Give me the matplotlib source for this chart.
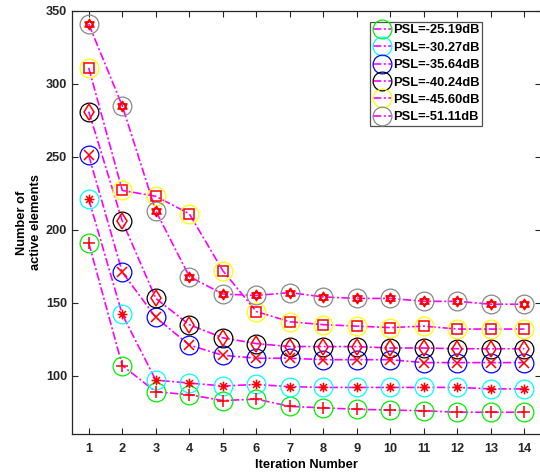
import numpy as np
import matplotlib
matplotlib.use("Agg")
from matplotlib import pyplot as plt
from matplotlib.path import Path

plt.rcParams['font.family'] = ['Liberation Sans', 'DejaVu Sans']
plt.rcParams['font.weight'] = 'bold'

# data
iterations = list(range(1, 15))
psl25 = [191, 107, 89, 87, 83, 84, 79, 78, 77, 76.5, 76, 75, 75, 75]
psl30 = [221, 142, 97, 95, 93, 94, 92.5, 92, 92, 92, 92, 92, 91, 91]
psl35 = [251, 171, 140, 121, 114, 112, 112, 111, 111, 111, 109, 109, 109, 109]
psl40 = [281, 206, 153, 135, 126, 122, 120, 120, 120, 119, 119, 118.5, 118.5, 118.5]
psl45 = [311, 227, 223, 211, 172, 144, 137, 135, 134, 133, 134, 132, 132, 132]
psl51 = [341, 285, 213, 168, 156, 155, 157, 154, 153, 153, 151, 151, 149, 149]
labels = ['PSL=-25.19dB', 'PSL=-30.27dB', 'PSL=-35.64dB',
          'PSL=-40.24dB', 'PSL=-45.60dB', 'PSL=-51.11dB']

# hexagram (star of david) marker
s = np.sqrt(3) / 2
tri1 = [(0, 1), (-s, -0.5), (s, -0.5), (0, 1)]
tri2 = [(0, -1), (-s, 0.5), (s, 0.5), (0, -1)]
codes = [Path.MOVETO, Path.LINETO, Path.LINETO, Path.CLOSEPOLY]
hexagram = Path(tri1 + tri2, codes + codes)

# matlab-like asterisk: plus and cross drawn as strokes
d = 0.707
astVerts = [(0, -1), (0, 1), (-1, 0), (1, 0), (-d, -d), (d, d), (-d, d), (d, -d)]
astCodes = [Path.MOVETO, Path.LINETO] * 4
asterisk = Path(astVerts, astCodes)

series = [psl25, psl30, psl35, psl40, psl45, psl51]
ringCols = ['#00ee00', '#00ffff', '#0000ff', '#000000', '#ffff00', '#888888']
innerMarks = ['+', asterisk, 'x', 'd', 's', hexagram]
innerSizes = [8, 7, 6.5, 8, 6.5, 7.5]

fig = plt.figure(figsize=(5.4, 4.76), dpi=100)
ax = fig.add_axes([0.1333, 0.088, 0.869, 0.889])

dashdot = (5, 1.5, 1.2, 1.5)
for ys, col, lab in zip(series, ringCols, labels):
    ax.plot(iterations, ys, linestyle=(0, dashdot), color='#ff00ff', linewidth=1.2,
            marker='o', markersize=13.5, markerfacecolor='none',
            markeredgecolor=col, markeredgewidth=0.9, label=lab)

for ys, m, ms in zip(series, innerMarks, innerSizes):
    ax.plot(iterations, ys, linestyle='none', marker=m, markersize=ms,
            markerfacecolor='none', markeredgecolor='red', markeredgewidth=1.1)

ax.set_xlim(0.5, 14.5)
ax.set_ylim(60, 350)
ax.set_xticks(iterations)
ax.set_yticks([100, 150, 200, 250, 300, 350])
ax.tick_params(direction='in', top=True, right=True, labelsize=9.2,
               length=4, width=0.8, colors='#262626')
ax.tick_params(axis='x', pad=6.5)
ax.tick_params(axis='y', pad=3.5)
for lbl in ax.get_xticklabels() + ax.get_yticklabels():
    lbl.set_fontweight('bold')
for sp in ax.spines.values():
    sp.set_color('#262626')
    sp.set_linewidth(0.9)

ax.set_xlabel('Iteration Number', fontsize=9.3, fontweight='bold', labelpad=3)
ax.set_ylabel('Number of\nactive elements', fontsize=9.3, fontweight='bold', labelpad=3)

leg = ax.legend(loc='upper left', bbox_to_anchor=(0.6355, 0.975), fontsize=9.3,
                frameon=True, fancybox=False, edgecolor='#262626',
                handlelength=1.4, handletextpad=0.15, labelspacing=0.42,
                borderpad=0.2, borderaxespad=0)
leg.get_frame().set_linewidth(0.9)
for t in leg.get_texts():
    t.set_fontweight('bold')

fig.savefig('out.png', dpi=100)
